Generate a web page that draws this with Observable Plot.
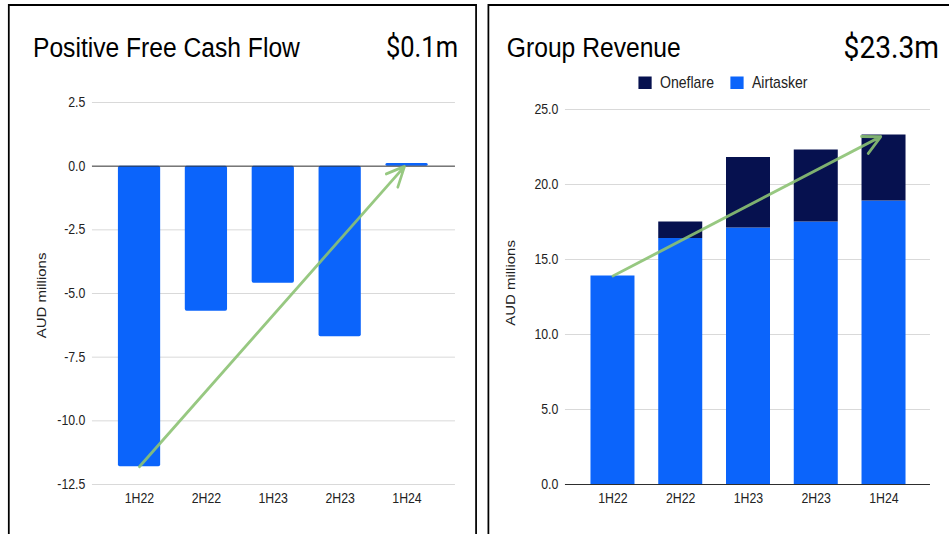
<!DOCTYPE html>
<html><head><meta charset="utf-8">
<script src="https://cdn.jsdelivr.net/npm/d3@7"></script>
<script src="https://cdn.jsdelivr.net/npm/@observablehq/plot@0.6"></script>
<style>
html,body{margin:0;padding:0;background:#fff;overflow:hidden;width:949px;height:534px;}
#page{position:absolute;left:0;top:0;width:1078.4px;height:534px;transform:scaleX(0.88);transform-origin:0 0;font-family:"Liberation Sans",Arial,sans-serif;}
.panel{position:absolute;top:4px;height:620px;border:2.8px solid #000;border-top-width:2.3px;box-sizing:border-box;}
#p1{left:8.5px;width:533.5px;}
#p2{left:553.8px;width:600px;}
#c1{position:absolute;left:0;top:80px;}
#c2{position:absolute;left:560px;top:80px;}
#hdr{position:absolute;left:0;top:0;}
</style></head>
<body>
<div id="page">
  <div class="panel" id="p1"></div>
  <div class="panel" id="p2"></div>
  <div id="c1"></div>
  <div id="c2"></div>
  <svg id="hdr" width="1078" height="110"></svg>
</div>
<script>
// ---- data ----
const periods = ["1H22", "2H22", "1H23", "2H23", "1H24"];
const fcf = [-11.8, -5.7, -4.6, -6.7, 0.1];
const airtasker = [13.9, 16.4, 17.1, 17.5, 18.9];
const oneflare = [0, 1.1, 4.7, 4.8, 4.4];
const fcfTicks = [-12.5, -10, -7.5, -5, -2.5, 0, 2.5];
const revTicks = [0, 5, 10, 15, 20, 25];
const series = ["Oneflare", "Airtasker"];
const titles = ["Positive Free Cash Flow", "Group Revenue"];
const headlines = ["$0.1m", "$23.3m"];
const yLabel = "AUD millions";

// ---- styles ----
const BLUE = "#0b64fb", NAVY = "#06114f", GRID = "#d6d6d6", ARROW = "#8cc273";
const seriesColors = [NAVY, BLUE];
const fmt = d => d.toFixed(1);
const baseStyle = {fontFamily: "'Liberation Sans', Arial, sans-serif", fontSize: "14px", color: "#222", background: "transparent", overflow: "visible"};

const fcfData = periods.map((p, i) => ({period: p, value: fcf[i]}));
const totals = periods.map((p, i) => airtasker[i] + oneflare[i]);
const revData = periods.flatMap((p, i) => [
  {period: p, series: "Airtasker", value: airtasker[i]},
  {period: p, series: "Oneflare", value: oneflare[i]}
]);

const left = Plot.plot({
  width: 542, height: 439,
  marginLeft: 104.5, marginRight: 25, marginTop: 22, marginBottom: 35,
  style: baseStyle,
  x: {domain: periods, paddingInner: 0.364, paddingOuter: 0.182, insetLeft: 14, insetRight: 14.4, label: null},
  y: {domain: [-12.5, 2.5], label: null},
  marks: [
    Plot.ruleY(fcfTicks, {stroke: GRID, strokeWidth: 1}),
    Plot.axisY({ticks: fcfTicks, tickSize: 0, tickPadding: 8, tickFormat: fmt, label: null}),
    Plot.axisX({tickSize: 0, tickPadding: 9, label: null}),
    Plot.barY(fcfData, {x: "period", y: "value", fill: BLUE, rx: 2}),
    Plot.ruleY([0], {stroke: "#333", strokeWidth: 1}),
    Plot.arrow([{x1: periods[0], y1: fcf[0], x2: periods[4], y2: fcf[4]}],
      {x1: "x1", y1: "y1", x2: "x2", y2: "y2", stroke: ARROW, strokeOpacity: 0.9, strokeWidth: 3, headLength: 11, headAngle: 50, insetEnd: 4}),
    Plot.text([yLabel], {frameAnchor: "left", rotate: -90, dx: -58, dy: 2, fontSize: 15, textAnchor: "middle", fill: "#222"})
  ]
});
document.getElementById("c1").appendChild(left);

const right = Plot.plot({
  width: 518, height: 439,
  marginLeft: 82, marginRight: 21.2, marginTop: 29, marginBottom: 35,
  style: baseStyle,
  x: {domain: periods, paddingInner: 0.356, paddingOuter: 0.178, insetLeft: 13.5, insetRight: 12.8, label: null},
  y: {domain: [0, 25], label: null},
  color: {domain: series, range: seriesColors},
  marks: [
    Plot.ruleY(revTicks, {stroke: GRID, strokeWidth: 1}),
    Plot.axisY({ticks: revTicks, tickSize: 0, tickPadding: 8, tickFormat: fmt, label: null}),
    Plot.axisX({tickSize: 0, tickPadding: 9, label: null}),
    Plot.barY(revData, {x: "period", y: "value", fill: "series"}),
    Plot.ruleY([0], {stroke: "#222", strokeWidth: 1}),
    Plot.arrow([{x1: periods[0], y1: totals[0], x2: periods[4], y2: totals[4]}],
      {x1: "x1", y1: "y1", x2: "x2", y2: "y2", stroke: ARROW, strokeOpacity: 0.9, strokeWidth: 3, headLength: 11, headAngle: 50, insetEnd: 4}),
    Plot.text([yLabel], {frameAnchor: "left", rotate: -90, dx: -62.5, dy: -14, fontSize: 15, textAnchor: "middle", fill: "#222"})
  ]
});
document.getElementById("c2").appendChild(right);

// ---- headers & legend ----
const hdr = d3.select("#hdr");
hdr.append("text").attr("x", 37.5).attr("y", 57).attr("font-size", 28).attr("fill", "#000")
  .attr("font-family", "'Liberation Sans', Arial, sans-serif").text(titles[0]);
hdr.append("text").attr("x", 576).attr("y", 57).attr("font-size", 28).attr("fill", "#000")
  .attr("font-family", "'Liberation Sans', Arial, sans-serif").text(titles[1]);
hdr.append("text").attr("x", 520.5).attr("y", 57).attr("font-size", 29).attr("fill", "#000")
  .attr("text-anchor", "end").attr("font-family", "Roboto, sans-serif").text(headlines[0]);
hdr.append("text").attr("x", 1067).attr("y", 58).attr("font-size", 32).attr("fill", "#000")
  .attr("text-anchor", "end").attr("font-family", "Roboto, sans-serif").text(headlines[1]);

const legX = [725.5, 830];
series.forEach((s, i) => {
  hdr.append("rect").attr("x", legX[i]).attr("y", 76.5).attr("width", 15).attr("height", 12.5)
    .attr("fill", seriesColors[i]);
  hdr.append("text").attr("x", legX[i] + 24.5).attr("y", 88.5).attr("font-size", 16).attr("fill", "#222")
    .attr("font-family", "'Liberation Sans', Arial, sans-serif").text(s);
});
</script>
</body></html>
